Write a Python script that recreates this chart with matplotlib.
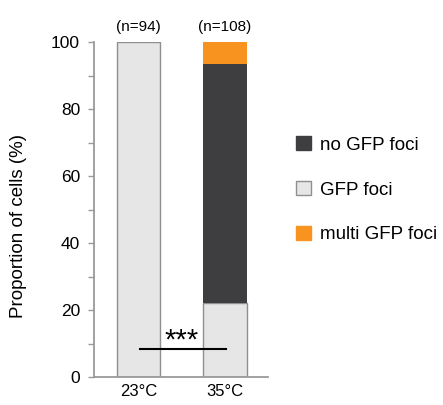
import matplotlib
matplotlib.use("Agg")
import matplotlib.pyplot as plt
from matplotlib.patches import Patch
from matplotlib.ticker import MultipleLocator

plt.rcParams['font.family'] = ['Liberation Sans', 'DejaVu Sans']

conditions = ['23°C', '35°C']
n_cells = ['(n=94)', '(n=108)']
gfp_foci = [100, 22]
no_gfp_foci = [0, 71.5]
multi_gfp_foci = [0, 6.5]

c_dark = '#3e3e40'
c_light = '#e6e6e6'
c_orange = '#f7931e'
c_edge = '#8f8f8f'

fig = plt.figure(figsize=(4.43, 4.05), dpi=100)
ax = fig.add_axes([0.212, 0.069, 0.393, 0.827])

x = [0, 1]
w = 0.5
ax.bar(x, gfp_foci, w, color=c_light, edgecolor=c_edge, linewidth=1)
ax.bar(x, no_gfp_foci, w, bottom=gfp_foci, color=c_dark, edgecolor='none')
bottom2 = [a + b for a, b in zip(gfp_foci, no_gfp_foci)]
ax.bar(x, multi_gfp_foci, w, bottom=bottom2, color=c_orange, edgecolor='none')

# significance bar
ax.plot([0.02, 1.01], [8.4, 8.4], color='black', lw=1.5)
ax.text(0.5, 8.6, '***', ha='center', va='baseline', fontsize=21)

for xi, label in zip(x, n_cells):
    ax.text(xi, 104.5, label, ha='center', va='center', fontsize=11, clip_on=False)

ax.set_xlim(-0.514, 1.497)
ax.set_ylim(0, 100)
ax.set_xticks(x)
ax.set_xticklabels(conditions, fontsize=12)
ax.tick_params(axis='x', length=0, pad=5)
ax.yaxis.set_major_locator(MultipleLocator(20))
ax.yaxis.set_minor_locator(MultipleLocator(10))
ax.tick_params(axis='y', which='both', length=4, width=1, color='#999999', labelsize=12.5, pad=6)

for s in ['top', 'right']:
    ax.spines[s].set_visible(False)
for s in ['left', 'bottom']:
    ax.spines[s].set_color('#9a9a9a')
    ax.spines[s].set_linewidth(1.3)

fig.text(19 / 443, 1 - 226 / 405, 'Proportion of cells (%)', rotation=90,
         ha='center', va='center', fontsize=13.5)

handles = [Patch(facecolor=c_dark, edgecolor=c_dark),
           Patch(facecolor=c_light, edgecolor=c_edge),
           Patch(facecolor=c_orange, edgecolor=c_orange)]
labels = ['no GFP foci', 'GFP foci', 'multi GFP foci']
fig.legend(handles, labels, loc='upper left', bbox_to_anchor=(296 / 443, 1 - 136 / 405),
           frameon=False, fontsize=13.5, handlelength=0.8, handleheight=0.8,
           handletextpad=0.5, labelspacing=1.45, borderpad=0, borderaxespad=0)

fig.savefig('out.png', dpi=100)
